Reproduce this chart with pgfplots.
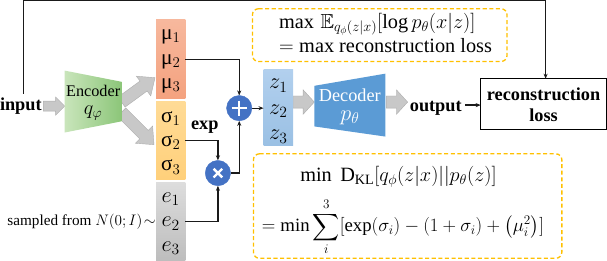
\RequirePackage{fix-cm}
\documentclass[border=0pt]{standalone}
\usepackage{amsmath,amssymb}
\usepackage{fontspec}
\setmainfont{Liberation Serif}
\usepackage{pgfplots}
\pgfplotsset{compat=1.18}
\usetikzlibrary{arrows.meta}
\definecolor{muTop}{HTML}{F7B89D}
\definecolor{muBot}{HTML}{F4A27F}
\definecolor{sgTop}{HTML}{FFDB96}
\definecolor{sgBot}{HTML}{FFD07B}
\definecolor{eTop}{HTML}{DDDDDD}
\definecolor{eBot}{HTML}{BDBDBD}
\definecolor{zTop}{HTML}{B2D0EE}
\definecolor{zBot}{HTML}{9AC0E4}
\definecolor{encL}{HTML}{C9E5BB}
\definecolor{encR}{HTML}{8CC679}
\definecolor{decC}{HTML}{5B9BD5}
\definecolor{arrF}{HTML}{C8C8C8}
\definecolor{arrD}{HTML}{ADADAD}
\definecolor{circB}{HTML}{4472C4}
\definecolor{dashO}{HTML}{FFC000}
\definecolor{ink}{HTML}{1A1A1A}
\newcommand\fs[1]{\fontsize{#1}{#1}\selectfont}
\begin{document}
\begin{tikzpicture}
\begin{axis}[hide axis, scale only axis, width=607pt, height=267pt,
  xmin=0, xmax=607, ymin=0, ymax=267, y dir=reverse, clip=false]
% gray block arrows
\addplot[fill=arrF, draw=arrD] coordinates {(50,103)(62,103)(62,99)(71,108)(62,117)(62,113)(50,113)} -- cycle;
\addplot[fill=arrF, draw=arrD] coordinates {(123.5,99.1)(145.2,83.3)(141.6,78.5)(160,80)(155.8,97.9)(152.2,93.1)(130.5,108.9)} -- cycle;
\addplot[fill=arrF, draw=arrD] coordinates {(131.2,109.8)(153.3,131.9)(157.6,127.6)(159,146)(140.6,144.6)(144.9,140.3)(122.8,118.2)} -- cycle;
\addplot[fill=arrF, draw=arrD] coordinates {(296,98)(306,98)(306,92)(317,104)(306,116)(306,110)(296,110)} -- cycle;
\addplot[fill=arrF, draw=arrD] coordinates {(388,98)(398,98)(398,92)(409,104)(398,116)(398,110)(388,110)} -- cycle;
% encoder / decoder
\addplot[left color=encL, right color=encR, draw=none] coordinates {(71,73)(127,84)(127,123)(71,134)} -- cycle;
\addplot[fill=decC, draw=none] coordinates {(317,88)(387,76)(387,138)(317,128)} -- cycle;
% boxes
\addplot[top color=muTop, bottom color=muBot, draw=none] coordinates {(161,23)(190,23)(190,100)(161,100)} -- cycle;
\addplot[top color=sgTop, bottom color=sgBot, draw=none] coordinates {(161,103)(190,103)(190,180)(161,180)} -- cycle;
\addplot[top color=eTop, bottom color=eBot, draw=none] coordinates {(161,183)(190,183)(190,260)(161,260)} -- cycle;
\addplot[top color=zTop, bottom color=zBot, draw=none] coordinates {(267,72)(296,72)(296,147)(267,147)} -- cycle;
\addplot[draw=black, line width=1pt] coordinates {(481,81)(605,81)(605,131)(481,131)} -- cycle;
% dashed boxes
\addplot[draw=dashO, line width=1.3pt, dash pattern=on 4pt off 2.5pt, rounded corners=6pt] coordinates {(256,12)(507,12)(507,64)(256,64)} -- cycle;
\addplot[draw=dashO, line width=1.3pt, dash pattern=on 4pt off 2.5pt, rounded corners=6pt] coordinates {(257,155)(561,155)(561,258)(257,258)} -- cycle;
% connectors
\addplot[ink, line width=1.2pt, -{Stealth[length=5pt,width=4pt]}] coordinates {(30,96)(30,4)(545,4)(545,81)};
\addplot[ink, line width=1.2pt, -{Stealth[length=5pt,width=4pt]}] coordinates {(190,62)(243,62)(243,97.5)};
\addplot[ink, line width=1.2pt, -{Stealth[length=5pt,width=4pt]}] coordinates {(190,142)(222,142)(222,161.5)};
\addplot[ink, line width=1.2pt, -{Stealth[length=5pt,width=4pt]}] coordinates {(190,222)(222,222)(222,186.5)};
\addplot[ink, line width=1.2pt, -{Stealth[length=5pt,width=4pt]}] coordinates {(234.5,174)(243,174)(243,122.5)};
\addplot[ink, line width=1.2pt, -{Stealth[length=5pt,width=4pt]}] coordinates {(255.5,110)(267,110)};
\addplot[ink, line width=1.2pt, -{Stealth[length=5pt,width=4pt]}] coordinates {(466,107)(481,107)};
% circles with symbols
\addplot[only marks, mark=*, mark size=12.5pt, mark options={fill=circB, draw=circB}] coordinates {(243,110)(222,174)};
\addplot[only marks, mark=+, mark size=7.5pt, mark options={draw=white, line width=2.4pt}] coordinates {(243,110)};
\addplot[only marks, mark=x, mark size=6pt, mark options={draw=white, line width=2.4pt}] coordinates {(222,174)};
% texts
\node[anchor=base west, inner sep=0, font=\fs{18}\bfseries] at (axis cs:7,112) {input};
\node[anchor=base west, inner sep=0, font=\fs{18}\bfseries] at (axis cs:411,113) {output};
\node[anchor=base, inner sep=0, font=\fs{18}\bfseries] at (axis cs:543,102) {reconstruction};
\node[anchor=base, inner sep=0, font=\fs{18}\bfseries] at (axis cs:543,123) {loss};
\node[anchor=center, inner sep=0, font=\fs{18}\bfseries] at (axis cs:209,129) {exp};
\node[anchor=base, inner sep=0, font=\fs{16}] at (axis cs:99,99) {Encoder};
\node[anchor=base, inner sep=0, font=\fs{20}] at (axis cs:99,116) {$q_\varphi$};
\node[anchor=base, inner sep=0, font=\fs{18}] at (axis cs:352,103) {\textcolor{white}{Decoder}};
\node[anchor=base, inner sep=0, font=\fs{22}] at (axis cs:352,122) {\textcolor{white}{$p_\theta$}};
\node[anchor=center, inner sep=0, font=\fs{21}] at (axis cs:175.5,40) {μ$_1$};
\node[anchor=center, inner sep=0, font=\fs{21}] at (axis cs:175.5,64) {μ$_2$};
\node[anchor=center, inner sep=0, font=\fs{21}] at (axis cs:175.5,88) {μ$_3$};
\node[anchor=center, inner sep=0, font=\fs{21}] at (axis cs:175.5,120) {σ$_1$};
\node[anchor=center, inner sep=0, font=\fs{21}] at (axis cs:175.5,144) {σ$_2$};
\node[anchor=center, inner sep=0, font=\fs{21}] at (axis cs:175.5,168) {σ$_3$};
\node[anchor=center, inner sep=0, font=\fs{22}] at (axis cs:175.5,200) {$e_1$};
\node[anchor=center, inner sep=0, font=\fs{22}] at (axis cs:175.5,224) {$e_2$};
\node[anchor=center, inner sep=0, font=\fs{22}] at (axis cs:175.5,248) {$e_3$};
\node[anchor=center, inner sep=0, font=\fs{22}] at (axis cs:281.5,88) {$z_1$};
\node[anchor=center, inner sep=0, font=\fs{22}] at (axis cs:281.5,113) {$z_2$};
\node[anchor=center, inner sep=0, font=\fs{22}] at (axis cs:281.5,138) {$z_3$};
\node[anchor=east, inner sep=0, font=\fs{15}] at (axis cs:161,222) {sampled from $N(0;I)\!\sim$};
\node[anchor=base west, inner sep=0, font=\fs{20}] at (axis cs:282,31) {$\max\,\mathbb{E}_{q_\phi(z|x)}[\log p_\theta(x|z)]$};
\node[anchor=base west, inner sep=0, font=\fs{20}] at (axis cs:282,55) {$=\max$ reconstruction loss};
\node[anchor=base west, inner sep=0, font=\fs{20}] at (axis cs:303,182) {$\min\ \mathrm{D}_{\mathrm{KL}}[q_\phi(z|x)||p_\theta(z)]$};
\node[anchor=base west, inner sep=0, font=\fs{18.5}] at (axis cs:265,232) {$\displaystyle =\min\sum_i^3[\exp(\sigma_i)-(1+\sigma_i)+\bigl(\mu_i^2\bigr)]$};
\end{axis}
\end{tikzpicture}
\end{document}
